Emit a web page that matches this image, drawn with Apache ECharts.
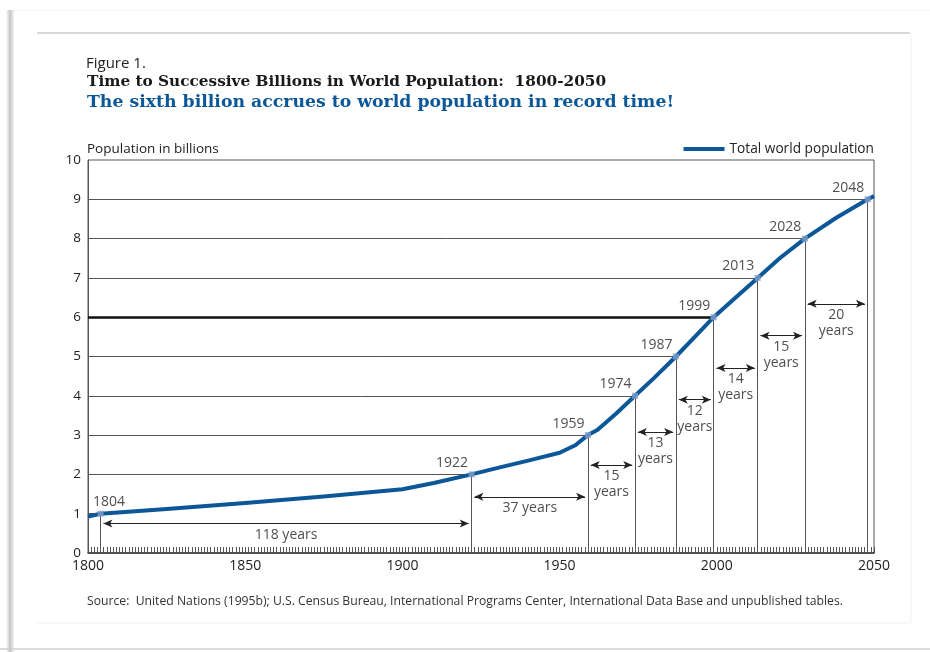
<!DOCTYPE html>
<html>
<head>
<meta charset="utf-8">
<script src="https://cdn.jsdelivr.net/npm/echarts@6/dist/echarts.min.js"></script>
<style>
html,body{margin:0;padding:0;background:#fff;}
#chart{width:930px;height:652px;}
</style>
</head>
<body>
<div id="chart"></div>
<script>
// ---- data ----
var popYears  = [1800,1804,1825,1850,1875,1900,1910,1922,1930,1940,1950,1955,1959,1962,1968,1974,1980,1987,1993,1999,2006,2013,2020,2028,2038,2048,2050];
var popValues = [0.93,1.0,1.12,1.27,1.44,1.62,1.78,2.0,2.16,2.35,2.55,2.74,3.0,3.13,3.55,4.0,4.45,5.0,5.5,6.0,6.5,7.0,7.5,8.0,8.53,9.0,9.08];
var milestoneYears  = [1804,1922,1959,1974,1987,1999,2013,2028,2048];
var milestoneValues = [1,2,3,4,5,6,7,8,9];
var intervalLabels  = ['118 years','37 years','15\nyears','13\nyears','12\nyears','14\nyears','15\nyears','20\nyears'];
var arrowLevels     = [0.75,1.43,2.24,3.08,3.9,4.71,5.53,6.34];
var xTickLabels = [1800,1850,1900,1950,2000,2050];
var yTickLabels = [0,1,2,3,4,5,6,7,8,9,10];

var FONT = "'Open Sans', 'Noto Sans', sans-serif";
var SERIF = "'DejaVu Serif', serif";
var BLUE = '#0b5798';

var chart = echarts.init(document.getElementById('chart'));

// reference lines
var refLines = [];
milestoneYears.forEach(function (yr, i) {
  var v = milestoneValues[i];
  var isSix = v === 6;
  refLines.push([
    {coord: [1800, v], lineStyle: {color: isSix ? '#111' : '#555', width: isSix ? 2.6 : 1, type: 'solid'}},
    {coord: [yr, v]}
  ]);
  refLines.push([
    {coord: [yr, v], lineStyle: {color: '#555', width: 1, type: 'solid'}},
    {coord: [yr, 0]}
  ]);
});

// arrows
var arrows = [];
var arrowText = [];
for (var i = 0; i < intervalLabels.length; i++) {
  var a = milestoneYears[i], b = milestoneYears[i + 1], lv = arrowLevels[i];
  arrows.push([{coord: [a + 0.9, lv]}, {coord: [b - 0.9, lv]}]);
  arrowText.push({value: [(a + b) / 2, lv], label: {formatter: intervalLabels[i]}});
}

var milestoneLabelData = milestoneYears.map(function (yr, i) {
  var first = i === 0;
  return {
    value: [yr, milestoneValues[i]],
    label: {
      formatter: String(yr),
      position: first ? [-7, -4] : [-3, -4],
      align: first ? 'left' : 'right'
    }
  };
});

var option = {
  animation: false,
  backgroundColor: '#fff',
  textStyle: {fontFamily: FONT},
  title: [
    {text: 'Figure 1.', left: 86, top: 56, padding: 0,
     textStyle: {fontFamily: FONT, fontSize: 15, fontWeight: 'normal', color: '#222'}},
    {text: 'Time to Successive Billions in World Population:  1800-2050', left: 87, top: 75, padding: 0,
     textStyle: {fontFamily: SERIF, fontSize: 15.3, fontWeight: 'bold', color: '#1a1a1a'}},
    {text: 'The sixth billion accrues to world population in record time!', left: 87, top: 94, padding: 0,
     textStyle: {fontFamily: SERIF, fontSize: 17.3, fontWeight: 'bold', color: BLUE}},
    {text: 'Source:  United Nations (1995b); U.S. Census Bureau, International Programs Center, International Data Base and unpublished tables.',
     left: 87, top: 596, padding: 0,
     textStyle: {fontFamily: FONT, fontSize: 12.2, fontWeight: 'normal', color: '#333'}}
  ],
  legend: {
    data: ['Total world population'],
    right: 56, top: 142, padding: 0,
    icon: 'rect', itemWidth: 41, itemHeight: 4, itemGap: 6,
    textStyle: {fontFamily: FONT, fontSize: 13.7, color: '#222', padding: [0, 0, 0, 0]}
  },
  graphic: [
    {type: 'rect', shape: {x: 6, y: 10, width: 8, height: 642}, silent: true,
     style: {fill: new echarts.graphic.LinearGradient(0, 0, 1, 0, [{offset: 0, color: '#ffffff'}, {offset: 0.5, color: '#c4c4c4'}, {offset: 1, color: '#f4f4f4'}])}},
    {type: 'line', shape: {x1: 14, y1: 10, x2: 930, y2: 10}, silent: true, style: {stroke: '#f0f0f0', lineWidth: 1}},
    {type: 'line', shape: {x1: 37, y1: 33, x2: 910, y2: 33}, silent: true, style: {stroke: '#d8d8d8', lineWidth: 2}},
    {type: 'line', shape: {x1: 911, y1: 33, x2: 911, y2: 623}, silent: true, style: {stroke: '#f2f2f2', lineWidth: 1}},
    {type: 'line', shape: {x1: 37, y1: 623, x2: 911, y2: 623}, silent: true, style: {stroke: '#f2f2f2', lineWidth: 1}},
    {type: 'line', shape: {x1: 0, y1: 649, x2: 930, y2: 649}, silent: true, style: {stroke: '#cfcfcf', lineWidth: 1.5}}
  ],
  grid: {left: 88, right: 56, top: 160, bottom: 99, show: true, borderColor: '#555', borderWidth: 1},
  xAxis: {
    type: 'value', min: 1800, max: 2050, interval: 50,
    axisLine: {show: true, lineStyle: {color: '#333', width: 1.5}},
    axisTick: {show: true, inside: true, length: 6, lineStyle: {color: '#555', width: 1}},
    minorTick: {show: true, splitNumber: 50, length: 6, lineStyle: {color: '#555', width: 1}},
    splitLine: {show: false},
    axisLabel: {margin: 6, fontSize: 14, color: '#222', fontFamily: FONT,
      formatter: function (v) { return xTickLabels.indexOf(v) >= 0 ? String(v) : ''; }}
  },
  yAxis: {
    type: 'value', min: 0, max: 10, interval: 1,
    name: 'Population in billions', nameLocation: 'end', nameGap: 4,
    nameTextStyle: {align: 'left', verticalAlign: 'bottom', fontSize: 13.5, color: '#222', fontFamily: FONT, padding: [0, 0, 0, -1]},
    axisLine: {show: true, lineStyle: {color: '#555', width: 1}},
    axisTick: {show: false},
    splitLine: {show: false},
    axisLabel: {margin: 7, fontSize: 13.5, color: '#222', fontFamily: FONT,
      formatter: function (v) { return yTickLabels.indexOf(v) >= 0 ? String(v) : ''; }}
  },
  series: [
    {
      name: 'refs', type: 'line', data: [], silent: true, z: 1,
      markLine: {silent: true, symbol: ['none', 'none'], label: {show: false}, animation: false, data: refLines}
    },
    {
      name: 'arrows', type: 'line', data: [], silent: true, z: 1,
      markLine: {silent: true, symbol: ['arrow', 'arrow'], symbolSize: [6, 9], label: {show: false}, animation: false,
        lineStyle: {color: '#222', width: 1, type: 'solid'}, data: arrows}
    },
    {
      name: 'Total world population', type: 'line', z: 5,
      data: popYears.map(function (y, i) { return [y, popValues[i]]; }),
      smooth: false, showSymbol: false, symbol: 'none',
      lineStyle: {color: BLUE, width: 4, join: 'round'}, itemStyle: {color: BLUE}
    },
    {
      name: 'milestones', type: 'scatter', z: 6, symbol: 'rect', symbolSize: 6,
      itemStyle: {color: '#7f9fcb'},
      data: milestoneYears.map(function (y, i) { return [y, milestoneValues[i]]; })
    },
    {
      name: 'milestoneLabels', type: 'scatter', z: 7, symbolSize: 1, itemStyle: {color: 'rgba(0,0,0,0)'},
      label: {show: true, verticalAlign: 'bottom', fontSize: 14, color: '#222', fontFamily: FONT},
      data: milestoneLabelData
    },
    {
      name: 'intervalLabels', type: 'scatter', z: 7, symbolSize: 1, itemStyle: {color: 'rgba(0,0,0,0)'},
      label: {show: true, position: 'bottom', distance: 3, fontSize: 14, lineHeight: 16, color: '#222', fontFamily: FONT, align: 'center'},
      data: arrowText
    }
  ]
};
chart.setOption(option);
</script>
</body>
</html>
